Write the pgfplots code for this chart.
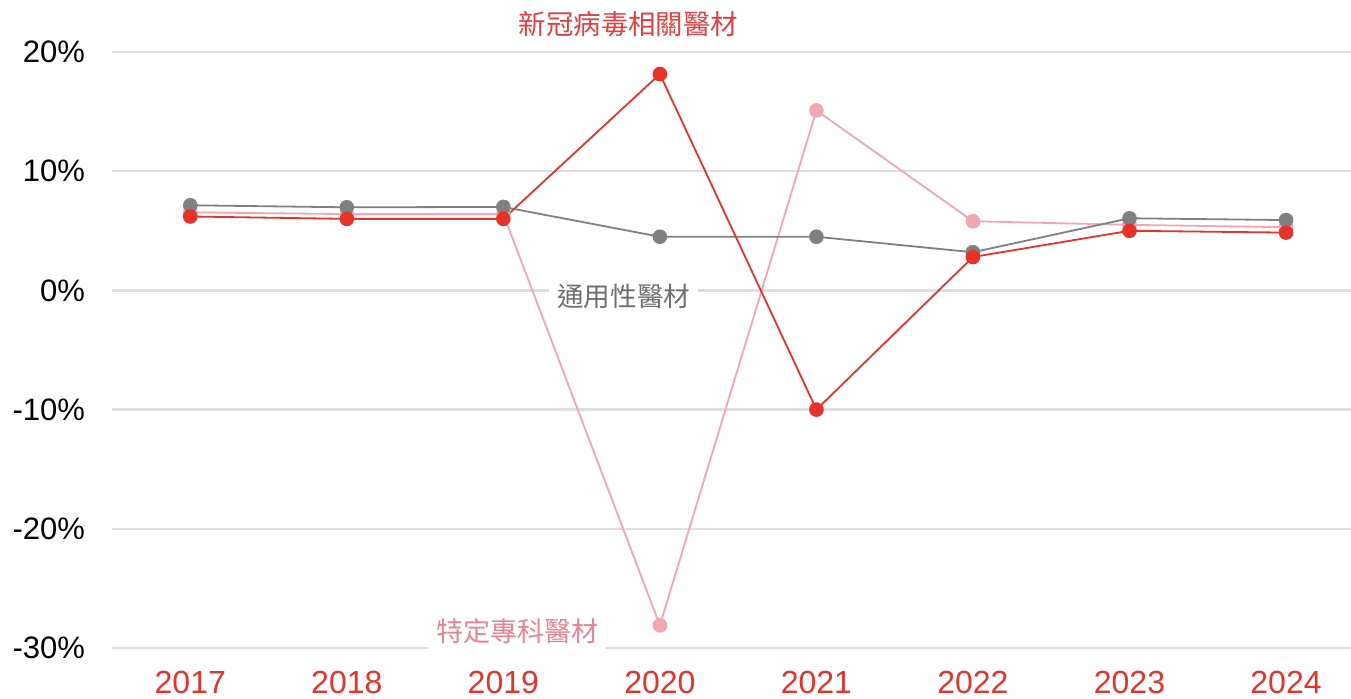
\documentclass[border=0pt]{standalone}
\usepackage{pgfplots}
\pgfplotsset{compat=1.18}
\usepackage{fontspec}
\setmainfont{Liberation Sans}
\newfontfamily\cjk{Noto Sans CJK TC}
\definecolor{covidRed}{RGB}{230,50,40}
\definecolor{specPink}{RGB}{242,166,180}
\definecolor{genGray}{RGB}{128,128,128}
\definecolor{gridGray}{RGB}{222,222,222}
\definecolor{labRed}{RGB}{226,64,64}
\definecolor{labPink}{RGB}{232,130,150}
\definecolor{labGray}{RGB}{110,110,110}

\begin{document}
\begin{tikzpicture}
\begin{axis}[
  at={(0,0)}, anchor=south west,
  scale only axis,
  width=619.5pt, height=298pt,
  xmin=-0.5, xmax=7.415,
  ymin=-30, ymax=20,
  axis line style={draw=none},
  tick style={draw=none},
  xtick={0,...,7},
  xticklabels={2017,2018,2019,2020,2021,2022,2023,2024},
  xticklabel style={font=\fontsize{16}{16}\selectfont, text=covidRed, yshift=-8pt},
  ytick={-30,-20,...,20},
  yticklabel={\pgfmathprintnumber{\tick}\%},
  yticklabel style={font=\fontsize{15.5}{15.5}\selectfont, text=black, xshift=-10pt},
  /pgf/number format/assume math mode=true,
  ymajorgrids,
  major grid style={draw=gridGray, line width=1.2pt},
  clip=false,
]
\addplot[draw=specPink, line width=0.9pt, mark=*, mark size=3.2pt, mark options={fill=specPink, draw=specPink}]
  coordinates {(0,6.55) (1,6.4) (2,6.4) (3,-28.1) (4,15.1) (5,5.8) (6,5.5) (7,5.3)};
\addplot[draw=genGray, line width=0.9pt, mark=*, mark size=3.2pt, mark options={fill=genGray, draw=genGray}]
  coordinates {(0,7.14) (1,6.97) (2,7.0) (3,4.5) (4,4.5) (5,3.2) (6,6.05) (7,5.9)};
\addplot[draw=covidRed, line width=0.9pt, mark=*, mark size=3.2pt, mark options={fill=covidRed, draw=covidRed}]
  coordinates {(0,6.2) (1,6.0) (2,6.0) (3,18.15) (4,-10.0) (5,2.8) (6,5.0) (7,4.85)};
\node[text=labRed, font=\cjk\fontsize{13.7}{13.7}\selectfont] at (axis cs:2.8,22.3) {新冠病毒相關醫材};
\node[text=labGray, fill=white, inner xsep=4pt, font=\cjk\fontsize{13.3}{13.3}\selectfont] at (axis cs:2.77,-0.5) {通用性醫材};
\node[text=labPink, fill=white, inner xsep=4pt, font=\cjk\fontsize{13.5}{13.5}\selectfont] at (axis cs:2.09,-28.6) {特定專科醫材};
\end{axis}
\pgfresetboundingbox
\path[use as bounding box] (-56pt,-25.5pt) rectangle (619.5pt,324pt);
\end{tikzpicture}
\end{document}
